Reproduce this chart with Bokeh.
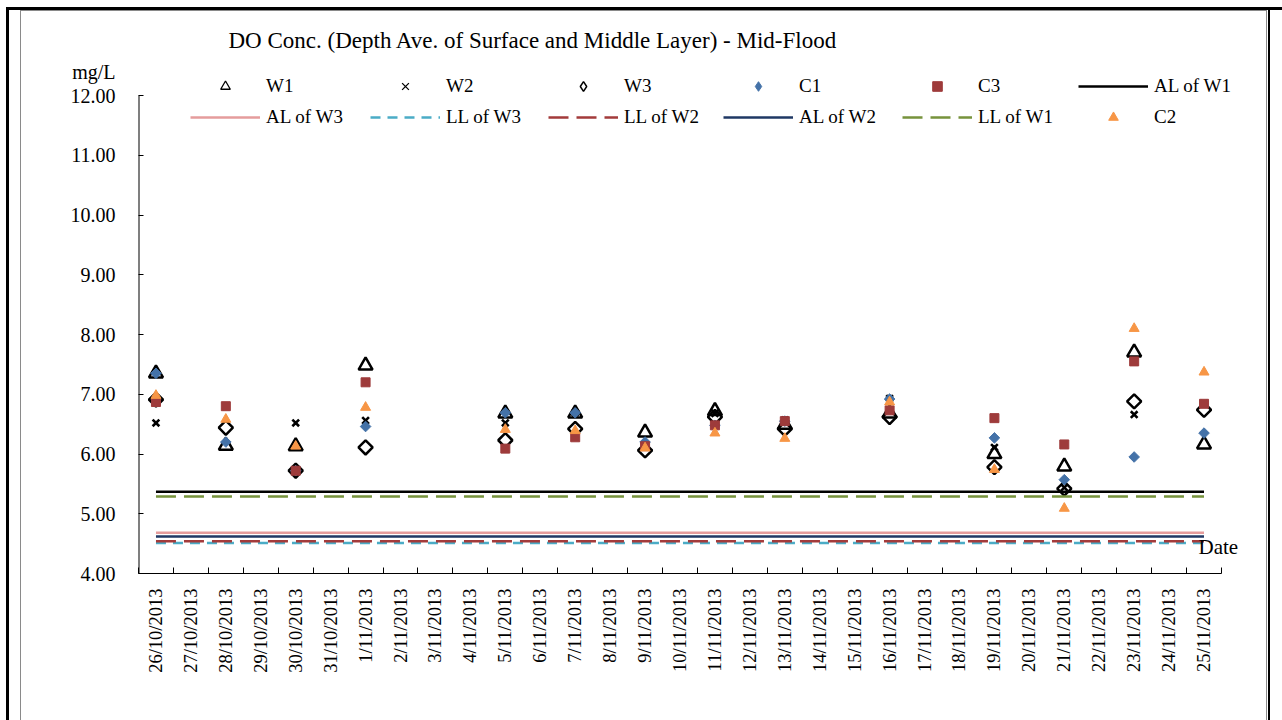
from bokeh.plotting import figure
from bokeh.models import (Range1d, FixedTicker, CustomJSTickFormatter,
                          Legend, LegendItem, Label)
from bokeh.embed import file_html
from bokeh.resources import INLINE
import math

# ---------------- data ----------------
dates = ["26/10/2013", "27/10/2013", "28/10/2013", "29/10/2013", "30/10/2013", "31/10/2013",
         "1/11/2013", "2/11/2013", "3/11/2013", "4/11/2013", "5/11/2013", "6/11/2013",
         "7/11/2013", "8/11/2013", "9/11/2013", "10/11/2013", "11/11/2013", "12/11/2013",
         "13/11/2013", "14/11/2013", "15/11/2013", "16/11/2013", "17/11/2013", "18/11/2013",
         "19/11/2013", "20/11/2013", "21/11/2013", "22/11/2013", "23/11/2013", "24/11/2013",
         "25/11/2013"]
sample_dates = ["26/10/2013", "28/10/2013", "30/10/2013", "1/11/2013", "5/11/2013", "7/11/2013",
                "9/11/2013", "11/11/2013", "13/11/2013", "16/11/2013", "19/11/2013", "21/11/2013",
                "23/11/2013", "25/11/2013"]
W1 = [7.35, 6.14, 6.13, 7.48, 6.68, 6.68, 6.36, 6.72, 6.49, 6.68, 6.00, 5.79, 7.70, 6.16]
W2 = [6.52, 6.80, 6.52, 6.56, 6.52, 6.69, 6.13, 6.68, 6.57, 6.93, 6.11, 5.44, 6.66, 6.84]
W3 = [6.91, 6.44, 5.72, 6.11, 6.23, 6.42, 6.06, 6.62, 6.42, 6.62, 5.78, 5.42, 6.88, 6.74]
C1 = [7.35, 6.20, 5.72, 6.46, 6.69, 6.69, 6.20, 6.48, 6.55, 6.92, 6.27, 5.57, 5.95, 6.35]
C3 = [6.87, 6.80, 5.72, 7.20, 6.09, 6.28, 6.13, 6.48, 6.55, 6.73, 6.60, 6.16, 7.55, 6.84]
C2 = [6.98, 6.58, 6.13, 6.78, 6.41, 6.39, 6.10, 6.35, 6.26, 6.87, 5.74, 5.09, 8.10, 7.37]

AL_W1 = 5.37
LL_W1 = 5.29
AL_W3 = 4.68
AL_W2 = 4.62
LL_W2 = 4.54
LL_W3 = 4.51

y_ticks = [4, 5, 6, 7, 8, 9, 10, 11, 12]
y_unit_label = "mg/L"
title_text = "DO Conc. (Depth Ave. of Surface and Middle Layer) - Mid-Flood"
x_title = "Date"
FONT = "Liberation Serif"

# ---------------- geometry ----------------
W, H = 1282, 720
FL, FR, FT, FB = 138, 1250, 20, 573        # frame edges (canvas px)
px_x = (1221 - 138) / len(dates)            # px per category
px_y = (573 - 95) / 8.0                     # px per mg/L
UNIT_POS = 4 + (FB - 71.7) / px_y           # where the "mg/L" text sits on the y axis

xs = [dates.index(d) + 0.5 for d in sample_dates]
line_x = [i + 0.5 for i in range(len(dates))]

p = figure(width=W, height=H, output_backend="svg", toolbar_location=None,
           x_range=Range1d(0, (FR - FL) / px_x), y_range=Range1d(4, 4 + (FB - FT) / px_y),
           min_border_left=FL, min_border_right=W - FR, min_border_top=FT,
           min_border_bottom=H - FB)
p.outline_line_color = None
p.xgrid.visible = False
p.ygrid.visible = False
p.background_fill_color = None
p.border_fill_color = None

# page frame lines (drawn as CSS background behind the transparent canvas)
bg_layers = [
    "linear-gradient(#000,#000) 6px 7px / 1276px 3px no-repeat",
    "linear-gradient(#000,#000) 6px 7px / 3px 713px no-repeat",
    "linear-gradient(#000,#000) 1268px 7px / 2px 713px no-repeat",
    "linear-gradient(#8a8a8a,#8a8a8a) 20px 10px / 1247px 1px no-repeat",
    "linear-gradient(#8a8a8a,#8a8a8a) 20px 10px / 1px 710px no-repeat",
    "linear-gradient(#8a8a8a,#8a8a8a) 1266px 10px / 1px 710px no-repeat",
]
p.styles = {"background": ", ".join(bg_layers) + ", #ffffff"}

# ---------------- axes ----------------
ya = p.yaxis[0]
ya.bounds = (4, UNIT_POS)
ya.ticker = FixedTicker(ticks=y_ticks + [UNIT_POS], minor_ticks=y_ticks)
ya.formatter = CustomJSTickFormatter(args=dict(unit=y_unit_label),
                                     code="return tick > 12.1 ? unit : tick.toFixed(2);")
ya.axis_line_color = None
ya.major_tick_in = 0
ya.major_tick_out = 0
ya.minor_tick_in = 5
ya.minor_tick_out = 0
ya.minor_tick_line_color = "black"
ya.major_label_standoff = 23
ya.major_label_text_font = FONT
ya.major_label_text_font_size = "20px"
ya.major_label_text_color = "black"
# y axis line from 4 to 12 only
p.line([0, 0], [y_ticks[0], y_ticks[-1]], line_color="black", line_width=2)

xa = p.xaxis[0]
xa.bounds = (0, len(dates))
xa.ticker = FixedTicker(ticks=line_x, minor_ticks=list(range(len(dates) + 1)))
xa.formatter = CustomJSTickFormatter(args=dict(labels=dates),
                                     code="return labels[Math.round(tick - 0.5)];")
xa.major_tick_in = 0
xa.major_tick_out = 0
xa.minor_tick_in = 6
xa.minor_tick_out = 0
xa.minor_tick_line_color = "black"
xa.major_label_orientation = math.pi / 2
xa.major_label_standoff = 15
xa.major_label_text_font = FONT
xa.major_label_text_font_size = "18.5px"
xa.major_label_text_color = "black"
xa.axis_line_color = "black"

# ---------------- series ----------------
BLUE, RED, ORANGE = "#4472A8", "#9E3B3B", "#F79646"
r_w1 = p.scatter(xs, W1, marker="triangle", size=14, fill_color=None, line_color="black", line_width=2.5)
r_w2 = p.scatter(xs, W2, marker="x", size=9.5, line_color="black", line_width=2.6)
r_w3 = p.scatter(xs, W3, marker="square", angle=math.pi / 4, size=10, fill_color=None,
                 line_color="black", line_width=2.5)
r_c1 = p.scatter(xs, C1, marker="square", angle=math.pi / 4, size=7.5, fill_color=BLUE,
                 line_color=BLUE)
r_c3 = p.scatter(xs, C3, marker="square", size=9, fill_color=RED, line_color=RED)
r_alw1 = p.line(line_x, [AL_W1] * len(dates), line_color="black", line_width=2.5)
r_alw3 = p.line(line_x, [AL_W3] * len(dates), line_color="#E59C9C", line_width=2.5)
r_llw3 = p.line(line_x, [LL_W3] * len(dates), line_color="#4BACC6", line_width=2.5, line_dash="10 7")
r_llw2 = p.line(line_x, [LL_W2] * len(dates), line_color="#A33B3B", line_width=2.5, line_dash="20 8")
r_alw2 = p.line(line_x, [AL_W2] * len(dates), line_color="#1F3864", line_width=2.5)
r_llw1 = p.line(line_x, [LL_W1] * len(dates), line_color="#77933C", line_width=2.5, line_dash="20 8")
r_c2 = p.scatter(xs, C2, marker="triangle", size=10, fill_color=ORANGE, line_color=ORANGE)

# legend-only glyph styles (thinner outlines, true diamonds); hidden in the plot itself
def legend_glyph(series, **kw):
    return p.scatter(xs, series, visible=False, **kw)

g_w1 = legend_glyph(W1, marker="triangle", fill_color=None, line_color="black", line_width=1.3)
g_w2 = legend_glyph(W2, marker="x", line_color="black", line_width=1.3)
g_w3 = legend_glyph(W3, marker="diamond", fill_color=None, line_color="black", line_width=1.5)
g_c1 = legend_glyph(C1, marker="diamond", fill_color=BLUE, line_color=BLUE)

# ---------------- legend (one box per entry) ----------------
col_label_x = [266, 446, 624, 799, 978, 1154]
row_center_y = [85.5, 117]
entries = [
    ("W1", g_w1, 0, 0), ("W2", g_w2, 1, 0), ("W3", g_w3, 2, 0),
    ("C1", g_c1, 3, 0), ("C3", r_c3, 4, 0), ("AL of W1", r_alw1, 5, 0),
    ("AL of W3", r_alw3, 0, 1), ("LL of W3", r_llw3, 1, 1), ("LL of W2", r_llw2, 2, 1),
    ("AL of W2", r_alw2, 3, 1), ("LL of W1", r_llw1, 4, 1), ("C2", r_c2, 5, 1),
]
GW, GH, STAND = 70, 24, 6
for label, rend, c, r in entries:
    vx = col_label_x[c] - GW - STAND - FL
    vy = FB - (row_center_y[r] + GH / 2)
    leg = Legend(items=[LegendItem(label=label, renderers=[rend])], location=(vx, vy),
                 orientation="horizontal", padding=0, margin=0, spacing=0,
                 glyph_width=GW, glyph_height=GH, label_height=GH, label_standoff=STAND,
                 label_text_font=FONT, label_text_font_size="19px", label_text_color="black",
                 border_line_color=None, background_fill_alpha=0, inactive_fill_alpha=0)
    p.add_layout(leg)

# ---------------- texts ----------------
def sx(cx):
    return cx - FL

def sy(cy):
    return FB - cy

p.add_layout(Label(x=sx(228), y=sy(40), x_units="screen", y_units="screen", text=title_text,
                   text_font=FONT, text_font_size="23px", text_color="black",
                   text_baseline="alphabetic", text_align="left"))
p.add_layout(Label(x=sx(1198), y=sy(546), x_units="screen", y_units="screen", text=x_title,
                   text_font=FONT, text_font_size="21px", text_color="black",
                   text_baseline="alphabetic", text_align="left"))

open("out.html", "w").write(file_html(p, INLINE))
